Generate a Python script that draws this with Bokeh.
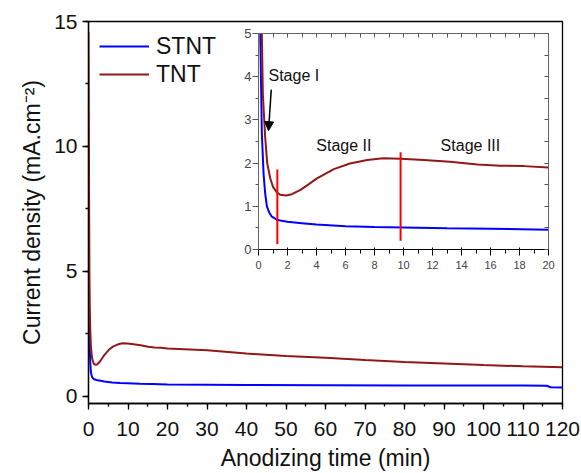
from bokeh.plotting import figure
from bokeh.models import Range1d, SingleIntervalTicker, FixedTicker, LinearAxis, Legend, LegendItem, Arrow, NormalHead
from bokeh.core.properties import value
from bokeh.embed import file_html
from bokeh.resources import INLINE

# ---------------- data ----------------
tnt_t = [0, 0.15, 0.23, 0.3, 0.46, 0.6, 0.81, 1.0, 1.27, 1.5, 1.9, 2.3, 2.9, 3.5, 4.0, 5.2, 6.3,
         7.5, 8.6, 9.8, 11.4, 13.2, 15.1, 16.7, 18.3, 20, 30, 40, 50, 60, 70, 80, 90, 100, 110, 120]
tnt_j = [14.6, 8.0, 5.0, 3.6, 2.6, 2.0, 1.65, 1.45, 1.32, 1.27, 1.25, 1.28, 1.38, 1.52, 1.64, 1.86, 1.99,
         2.07, 2.11, 2.10, 2.07, 2.03, 1.97, 1.94, 1.93, 1.90, 1.83, 1.70, 1.60, 1.53, 1.44, 1.36, 1.30, 1.24, 1.19, 1.15]

stnt_t = [0, 0.08, 0.12, 0.23, 0.35, 0.46, 0.58, 0.75, 0.92, 1.27, 1.5, 2, 3, 4, 6, 8, 10, 13, 16, 20,
          30, 40, 60, 80, 100, 110, 116, 117, 120]
stnt_j = [10.0, 6.5, 5.0, 2.7, 1.75, 1.3, 1.0, 0.85, 0.76, 0.69, 0.67, 0.64, 0.61, 0.58, 0.54, 0.52, 0.51, 0.49, 0.48, 0.46,
          0.45, 0.44, 0.43, 0.42, 0.42, 0.42, 0.41, 0.35, 0.34]

stage_x = [1.3, 9.8]
stage_y0 = [0.12, 0.2]
stage_y1 = [1.85, 2.25]

stage_labels = ["Stage I", "Stage II", "Stage III"]
stage_label_x = [0.69, 3.99, 12.56]
stage_label_y = [4.03, 2.4, 2.4]

arrow_from = (0.88, 3.7)
arrow_to = (0.69, 2.75)

series_names = ["STNT", "TNT"]
inset_x_ticks = list(range(0, 21))              # 0..20 min, every 1
inset_y_ticks = [i * 0.5 for i in range(0, 11)]  # 0..5, every 0.5

BLUE = "#0000FF"
DARKRED = "#921818"
FONT = "Liberation Sans"

# ---------------- main figure ----------------
p = figure(width=581, height=473, output_backend="svg", toolbar_location=None,
           x_range=Range1d(0, 120), y_range=Range1d(-0.3, 15),
           min_border_left=88, min_border_right=19, min_border_top=21, min_border_bottom=69,
           x_axis_label="Anodizing time (min)", y_axis_label="Current density (mA.cm\u207b\u00b2)")
p.grid.visible = False
p.outline_line_color = "black"
p.outline_line_width = 1.3
p.background_fill_color = "white"

p.xaxis.ticker = SingleIntervalTicker(interval=10, num_minor_ticks=2)
p.yaxis.ticker = SingleIntervalTicker(interval=5, num_minor_ticks=2)
for ax in (p.xaxis[0], p.yaxis[0]):
    ax.axis_line_color = "black"
    ax.axis_line_width = 1.3
    ax.major_tick_line_color = "black"
    ax.minor_tick_line_color = "black"
    ax.major_tick_line_width = 1.3
    ax.minor_tick_line_width = 1.3
    ax.major_tick_in = 0
    ax.major_tick_out = 6
    ax.minor_tick_in = 0
    ax.minor_tick_out = 3
    ax.major_label_text_font = FONT
    ax.major_label_text_font_size = "21px"
    ax.major_label_text_color = "#111111"
    ax.axis_label_text_font = FONT
    ax.axis_label_text_font_size = "23px"
    ax.axis_label_text_font_style = "normal"
    ax.axis_label_text_color = "#111111"
p.xaxis.major_label_standoff = 12
p.yaxis.major_label_standoff = 5
p.xaxis.axis_label_standoff = 6
p.yaxis.axis_label_standoff = 6

r_s = p.line(stnt_t, stnt_j, line_color=BLUE, line_width=2)
r_t = p.line(tnt_t, tnt_j, line_color=DARKRED, line_width=2)

legend = Legend(items=[LegendItem(label=series_names[0], renderers=[r_s]),
                       LegendItem(label=series_names[1], renderers=[r_t])],
                location="top_left", margin=11, padding=0, spacing=0,
                glyph_width=50, glyph_height=28, label_height=28, label_standoff=7,
                label_text_font=FONT, label_text_font_size="23px", label_text_color="#111111",
                border_line_color=None, background_fill_alpha=0)
p.add_layout(legend)

# ---------------- inset figure ----------------
q = figure(width=330, height=250, output_backend="svg", toolbar_location=None,
           x_range=Range1d(0, 20), y_range=Range1d(0, 5),
           min_border_left=30, min_border_right=10, min_border_top=10, min_border_bottom=24)
q.styles = {"position": "absolute", "left": "228px", "top": "23px"}
q.grid.visible = False
q.border_fill_alpha = 0
q.background_fill_color = "white"
q.outline_line_color = "#666666"
q.outline_line_width = 1

q.xaxis.ticker = SingleIntervalTicker(interval=2, num_minor_ticks=2)
q.yaxis.ticker = SingleIntervalTicker(interval=1, num_minor_ticks=2)
top_ax = LinearAxis(ticker=FixedTicker(ticks=[], minor_ticks=inset_x_ticks))
right_ax = LinearAxis(ticker=FixedTicker(ticks=[], minor_ticks=inset_y_ticks))
q.add_layout(top_ax, "above")
q.add_layout(right_ax, "right")
for ax in (q.xaxis[0], q.yaxis[0], top_ax, right_ax):
    ax.axis_line_color = "#666666"
    ax.major_tick_line_color = "#555555"
    ax.minor_tick_line_color = "#555555"
    ax.major_tick_in = 5
    ax.major_tick_out = 0
    ax.minor_tick_in = 3
    ax.minor_tick_out = 0
    ax.major_label_text_font = FONT
    ax.major_label_text_font_size = "13px"
    ax.major_label_text_color = "#444444"
    ax.major_label_standoff = 3
for ax in (top_ax, right_ax):
    ax.minor_tick_in = 4
    ax.major_label_standoff = 0
ly = q.yaxis[0]
ly.major_tick_in = 0
ly.major_tick_out = 6
ly.minor_tick_in = 0
ly.minor_tick_out = 3
ly.major_label_standoff = 1

q.line(stnt_t, stnt_j, line_color=BLUE, line_width=2)
q.line(tnt_t, tnt_j, line_color=DARKRED, line_width=2)
q.segment(x0=stage_x, y0=stage_y0, x1=stage_x, y1=stage_y1, line_color="#FF0000", line_width=2)
q.text(x=stage_label_x, y=stage_label_y, text=stage_labels, text_font=value(FONT),
       text_font_size="16px", text_baseline="middle", text_align="left", text_color="#111111")
q.add_layout(Arrow(x_start=arrow_from[0], y_start=arrow_from[1], x_end=arrow_to[0], y_end=arrow_to[1],
                   line_color="black", line_width=1.5,
                   end=NormalHead(size=9, fill_color="black", line_color="black")))

open("out.html", "w").write(file_html([p, q], INLINE))
